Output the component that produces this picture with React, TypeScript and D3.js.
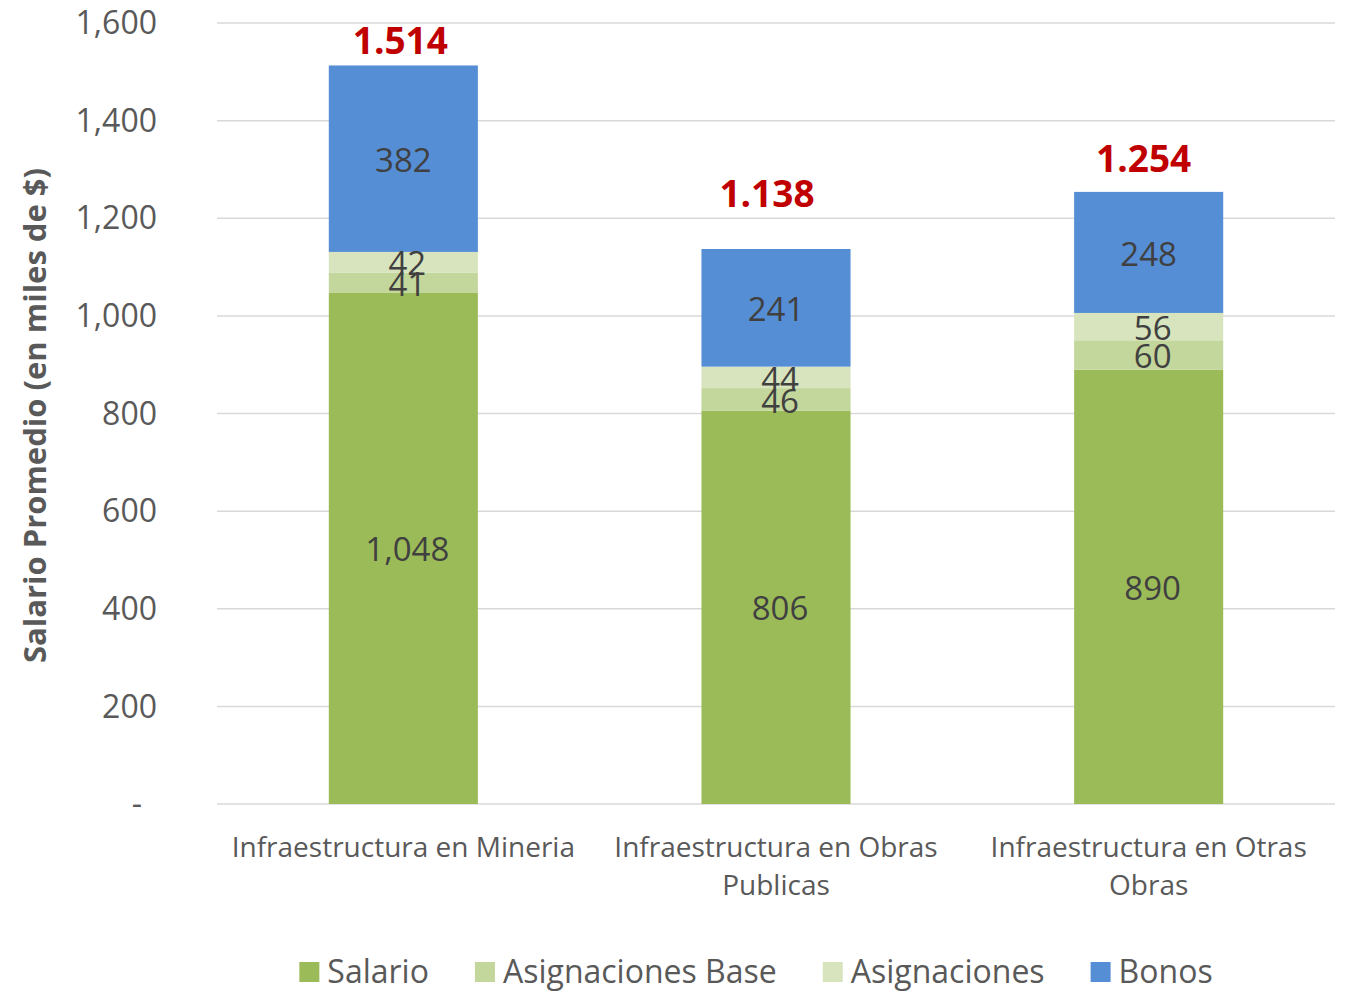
import React, { useEffect, useRef } from "react";
import * as d3 from "d3";

const categories = ["Infraestructura en Mineria", "Infraestructura en Obras Publicas", "Infraestructura en Otras Obras"];
const categoryLines = [["Infraestructura en Mineria"], ["Infraestructura en Obras", "Publicas"], ["Infraestructura en Otras", "Obras"]];
const seriesNames = ["Salario", "Asignaciones Base", "Asignaciones", "Bonos"];
const seriesColors = ["#9BBB59", "#C3D69B", "#D7E4BD", "#558ED5"];
const salario = [1048, 806, 890];
const asignacionesBase = [41, 46, 60];
const asignaciones = [42, 44, 56];
const bonos = [382, 241, 248];
const totalLabels = ["1.514", "1.138", "1.254"];
const yTicks = [0, 200, 400, 600, 800, 1000, 1200, 1400, 1600];
const yTitle = "Salario Promedio (en miles de $)";

// label placement styling (pixels)
const totalOffsetY = [24, 55, 33];
const totalOffsetX = [-3, -9, -5];
const seriesLabelDx = [4, 4, 4, 0];

const W = 1347, H = 992;
const FONT = "'Open Sans', sans-serif";

export default function App() {
  const ref = useRef<SVGSVGElement>(null);
  useEffect(() => {
    const svg = d3.select(ref.current);
    svg.selectAll("*").remove();
    const m = { left: 217, right: 1335, top: 23, bottom: 804 };
    const x = d3.scaleBand().domain(categories).range([m.left, m.right]).paddingInner(0.6).paddingOuter(0.3);
    const y = d3.scaleLinear().domain([0, 1600]).range([m.bottom, m.top]);
    const values = [salario, asignacionesBase, asignaciones, bonos];
    const rows = categories.map((c, i) => {
      const o: any = { cat: c };
      seriesNames.forEach((s, j) => (o[s] = values[j][i]));
      return o;
    });
    const stacked = d3.stack().keys(seriesNames)(rows);

    // grid
    svg.append("g").selectAll("line").data(yTicks).join("line")
      .attr("x1", m.left).attr("x2", m.right)
      .attr("y1", d => y(d)).attr("y2", d => y(d))
      .attr("stroke", "#D9D9D9").attr("stroke-width", 1.5);
    // y tick labels
    svg.append("g").selectAll("text").data(yTicks).join("text")
      .attr("x", 157).attr("y", d => y(d)).attr("dy", "0.35em")
      .attr("text-anchor", "end").attr("font-family", FONT).attr("font-size", 32)
      .attr("fill", "#595959")
      .text(d => (d === 0 ? "-" : d3.format(",")(d)))
      .attr("dx", d => (d === 0 ? -15 : 0));

    // y title
    svg.append("text")
      .attr("transform", `translate(46,${(m.top + m.bottom) / 2 + 2}) rotate(-90)`)
      .attr("text-anchor", "middle").attr("font-family", FONT).attr("font-size", 31)
      .attr("font-weight", "bold").attr("fill", "#595959").text(yTitle);

    // bars
    stacked.forEach((layer, j) => {
      const g = svg.append("g");
      g.selectAll("rect").data(layer).join("rect")
        .attr("x", d => x((d.data as any).cat)!)
        .attr("width", x.bandwidth())
        .attr("y", d => y(d[1]))
        .attr("height", d => y(d[0]) - y(d[1]))
        .attr("fill", seriesColors[j]);
    });
    stacked.forEach((layer, j) => {
      svg.append("g").selectAll("text").data(layer).join("text")
        .attr("x", d => x((d.data as any).cat)! + x.bandwidth() / 2 + seriesLabelDx[j])
        .attr("y", d => y((d[0] + d[1]) / 2)).attr("dy", "0.4em")
        .attr("text-anchor", "middle").attr("font-family", FONT).attr("font-size", 33)
        .attr("fill", "#404040")
        .text(d => d3.format(",")(d[1] - d[0]));
    });
    // totals
    const top = stacked[stacked.length - 1];
    svg.append("g").selectAll("text").data(top).join("text")
      .attr("x", (d, i) => x(categories[i])! + x.bandwidth() / 2 + totalOffsetX[i])
      .attr("y", (d, i) => y(d[1]) - totalOffsetY[i]).attr("dy", "0.35em")
      .attr("text-anchor", "middle").attr("font-family", FONT).attr("font-size", 37)
      .attr("font-weight", "bold").attr("fill", "#C00000")
      .text((d, i) => totalLabels[i]);

    // category labels
    categories.forEach((c, i) => {
      const t = svg.append("text")
        .attr("x", x(c)! + x.bandwidth() / 2).attr("y", 847)
        .attr("text-anchor", "middle").attr("font-family", FONT).attr("font-size", 28)
        .attr("fill", "#595959");
      categoryLines[i].forEach((line, k) => {
        t.append("tspan").attr("x", x(c)! + x.bandwidth() / 2).attr("dy", k === 0 ? "0.35em" : 38).text(line);
      });
    });

    // legend
    const lg = svg.append("g");
    let cx = 0;
    seriesNames.forEach((s, j) => {
      const gi = lg.append("g").attr("transform", `translate(${cx},0)`);
      gi.append("rect").attr("x", 0).attr("y", -10).attr("width", 20).attr("height", 20).attr("fill", seriesColors[j]);
      const t = gi.append("text").attr("x", 28).attr("y", 0).attr("dy", "0.35em")
        .attr("font-family", FONT).attr("font-size", 32).attr("fill", "#595959").text(s);
      const w = (t.node() as SVGTextElement).getComputedTextLength();
      cx += 28 + w + 46;
    });
    const total = cx - 46;
    lg.attr("transform", `translate(${756 - total / 2},972)`);
  }, []);
  return <svg ref={ref} width={W} height={H} style={{ display: "block", position: "absolute", left: 0, top: 0, background: "#fff" }} />;
}
